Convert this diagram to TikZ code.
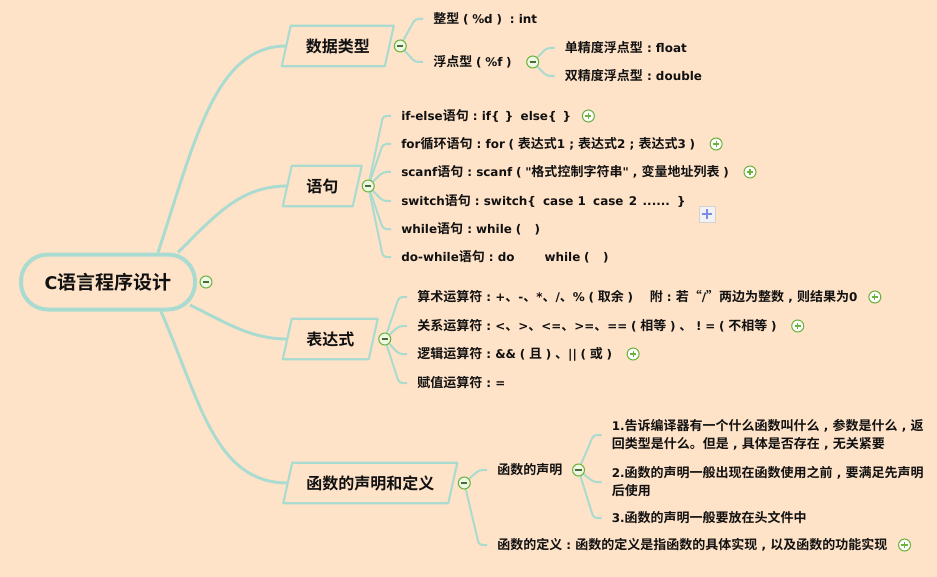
\documentclass[tikz,border=0pt]{standalone}
\usepackage{fontspec}
\setmainfont{Noto Sans CJK SC}[BoldFont={Noto Sans CJK SC Bold}]
\newfontfamily\latf{DejaVu Sans}[Scale=0.92,Ligatures=TeXOff]
\newcommand\lat[1]{{\latf\bfseries #1}}
\newcommand\fw[1]{\makebox[1em]{\lat{#1}}}
\usetikzlibrary{calc}
\definecolor{bgc}{HTML}{FFE3C8}
\definecolor{linec}{HTML}{A9DBD0}
\definecolor{btngreen}{HTML}{6CB33E}
\definecolor{btnfill}{HTML}{EEF8E4}
\definecolor{btndark}{HTML}{4A6B3A}
\definecolor{txt}{HTML}{111111}
\definecolor{bluebtn}{HTML}{7C8CE6}
\pgfdeclarelayer{bg}
\pgfsetlayers{bg,main}
\newcommand\drawpara[1]{\draw[paraline] ($(#1.south west)+(-4.5,0)$) -- ($(#1.south east)+(-4.5,0)$) -- ($(#1.north east)+(4.5,0)$) -- ($(#1.north west)+(4.5,0)$) -- cycle;}
\begin{document}
\begin{tikzpicture}[x=0.75pt,y=-0.75pt,
  conn/.style={draw=linec,line width=2.2pt},
  br/.style={draw=linec,line width=1.5pt,rounded corners=2.5pt},
  leaf/.style={anchor=west,inner sep=0pt,text=txt,align=left,font=\fontsize{9.75}{13.5}\selectfont\bfseries},
  mainlbl/.style={inner sep=0pt,minimum height=30pt,minimum width=#1,text=txt,font=\fontsize{12}{14}\selectfont\bfseries},
  paraline/.style={draw=linec,line width=1.6pt,line join=round},
  minusbtn/.style={circle,draw=btngreen,line width=0.8pt,fill=btnfill,minimum size=9pt,inner sep=0pt,
    path picture={\draw[btndark,line width=0.9pt] ([xshift=2.2pt]path picture bounding box.west) -- ([xshift=-2.2pt]path picture bounding box.east);}},
  plusbtn/.style={circle,draw=btngreen,line width=0.8pt,fill=white,minimum size=9pt,inner sep=0pt,
    path picture={\draw[btngreen,line width=0.9pt] ([xshift=2.2pt]path picture bounding box.west) -- ([xshift=-2.2pt]path picture bounding box.east) ([yshift=-2.2pt]path picture bounding box.north) -- ([yshift=2.2pt]path picture bounding box.south);}},
  bluebox/.style={rectangle,draw=gray!35,fill=gray!10,minimum size=12pt,inner sep=0pt,
    path picture={\draw[bluebtn,line width=1.8pt] ([xshift=2.5pt]path picture bounding box.west) -- ([xshift=-2.5pt]path picture bounding box.east) ([yshift=-2.5pt]path picture bounding box.north) -- ([yshift=2.5pt]path picture bounding box.south);}}
]
\useasboundingbox (0,0) rectangle (937,577);
\begin{pgfonlayer}{bg}
\fill[bgc] (0,0) rectangle (937,577);
\end{pgfonlayer}

% root
\node[draw=linec,line width=3pt,rounded corners=20pt,minimum width=130.5pt,minimum height=41.25pt,inner sep=0pt,fill=bgc,text=txt,font=\fontsize{14.25}{16}\selectfont\bfseries] (root) at (108,282) {\lat{C}语言程序设计};
\node[minusbtn] (m0) at ($(root.east)+(9,0)$) {};

% main nodes
\node[mainlbl=76.9pt] (n1) at (337.75,46) {数据类型};
\node[mainlbl=52.1pt] (n2) at (322.25,186) {语句};
\node[mainlbl=64.1pt] (n3) at (330.25,339) {表达式};
\node[mainlbl=123.4pt] (n4) at (370.25,483) {函数的声明和定义};
\drawpara{n1}\drawpara{n2}\drawpara{n3}\drawpara{n4}
\node[minusbtn] (m1) at ($(n1.east)+(11,0)$) {};
\node[minusbtn] (m2) at ($(n2.east)+(11,0)$) {};
\node[minusbtn] (m3) at ($(n3.east)+(11.5,0)$) {};
\node[minusbtn] (m4) at ($(n4.east)+(11.5,0)$) {};

% data types
\node[leaf] (a1) at (433,19) {整型\fw{(}\lat{\%d}\fw{)}\fw{:}\lat{int}};
\node[leaf] (a2) at (433,62) {浮点型\fw{(}\lat{\%f}\fw{)}};
\node[minusbtn] (m5) at ($(a2.east)+(17,0)$) {};
\node[leaf] (a3) at ($(m5)+(32,-14)$) {单精度浮点型\fw{:}\lat{float}};
\node[leaf] (a4) at ($(m5)+(32,14)$) {双精度浮点型\fw{:}\lat{double}};

% statements
\node[leaf] (b1) at (401,116) {\lat{if-else}语句\fw{:}\lat{if\{\hspace{0.45em}\}\hspace{0.6em}else\{\hspace{0.5em}\}}};
\node[leaf] (b2) at (401,144) {\lat{for}循环语句\fw{:}\lat{for}\fw{(}表达式\lat{1}\fw{;}表达式\lat{2}\fw{;}表达式\lat{3}\fw{)}};
\node[leaf] (b3) at (401,172) {\lat{scanf}语句\fw{:}\lat{scanf}\fw{(}\lat{"}格式控制字符串\lat{"}\fw{,}变量地址列表\fw{)}};
\node[leaf] (b4) at (401,201) {\lat{switch}语句\fw{:}\lat{switch\{\hspace{0.6em}case 1\hspace{0.6em}case\hspace{0.45em}2\hspace{0.45em}......\hspace{0.6em}\}}};
\node[leaf] (b5) at (401,229) {\lat{while}语句\fw{:}\lat{while}\fw{(}\hspace{0.45em}\fw{)}};
\node[leaf] (b6) at (401,257) {\lat{do-while}语句\fw{:}\lat{do}\hspace{2.3em}\lat{while}\fw{(}\hspace{0.45em}\fw{)}};
\node[plusbtn] (p1) at ($(b1.east)+(17,0)$) {};
\node[plusbtn] (p2) at ($(b2.east)+(17,0)$) {};
\node[plusbtn] (p3) at ($(b3.east)+(17,0)$) {};
\node[bluebox] (bx) at ($(b4.east)+(21,13)$) {};

% expressions
\node[leaf] (c1) at (417,297) {算术运算符\fw{:}\lat{+}、\lat{-}、\lat{*}、\lat{/}、\lat{\%}\fw{(}取余\fw{)}\hspace{1em}附\fw{:}若“\lat{/}”两边为整数\fw{,}则结果为\lat{0}};
\node[leaf] (c2) at (417,326) {关系运算符\fw{:}\lat{<}、\lat{>}、\lat{<=}、\lat{>=}、\lat{==}\fw{(}相等\fw{)}、\fw{!}\lat{=}\fw{(}不相等\fw{)}};
\node[leaf] (c3) at (417,354) {逻辑运算符\fw{:}\lat{\&\&}\fw{(}且\fw{)}、\lat{||}\fw{(}或\fw{)}};
\node[leaf] (c4) at (417,383) {赋值运算符\fw{:}\lat{=}};
\node[plusbtn] (p4) at ($(c1.east)+(17,0)$) {};
\node[plusbtn] (p5) at ($(c2.east)+(17,0)$) {};
\node[plusbtn] (p6) at ($(c3.east)+(17,0)$) {};

% functions
\node[leaf] (d1) at (497,470) {函数的声明};
\node[leaf] (d2) at (497,545) {函数的定义\fw{:}函数的定义是指函数的具体实现\fw{,}以及函数的功能实现};
\node[plusbtn] (p7) at ($(d2.east)+(17,0)$) {};
\node[minusbtn] (m6) at ($(d1.east)+(16,0)$) {};
\node[leaf] (e1) at ($(m6)+(33,-35)$) {\lat{1.}告诉编译器有一个什么函数叫什么\fw{,}参数是什么\fw{,}返\\回类型是什么。但是\fw{,}具体是否存在\fw{,}无关紧要};
\node[leaf] (e2) at ($(m6)+(33,12)$) {\lat{2.}函数的声明一般出现在函数使用之前\fw{,}要满足先声明\\后使用};
\node[leaf] (e3) at ($(m6)+(33,48)$) {\lat{3.}函数的声明一般要放在头文件中};

\begin{pgfonlayer}{bg}
\draw[conn] ($(root.north)+(50,0)$) .. controls +(37,-112) and +(-71,0) .. (n1.west);
\draw[conn] ($(root.north)+(70,0)$) .. controls +(37,-37) and +(-47,0) .. (n2.west);
\draw[conn] ($(root.center)+(82,23)$) .. controls +(35,17) and +(-37,0) .. (n3.west);
\draw[conn] ($(root.south)+(53,0)$) .. controls +(39,89) and +(-73,0) .. (n4.west);
\foreach \m/\c in {m1/a1,m1/a2,m5/a3,m5/a4,m2/b1,m2/b2,m2/b3,m2/b4,m2/b5,m2/b6,m3/c1,m3/c2,m3/c3,m3/c4,m4/d1,m4/d2,m6/e1,m6/e2,m6/e3}
  \draw[br] (\m) -- ($(\c.west)+(-18,0)$) -- ($(\c.west)+(-10,0)$);
\end{pgfonlayer}
\end{tikzpicture}
\end{document}
